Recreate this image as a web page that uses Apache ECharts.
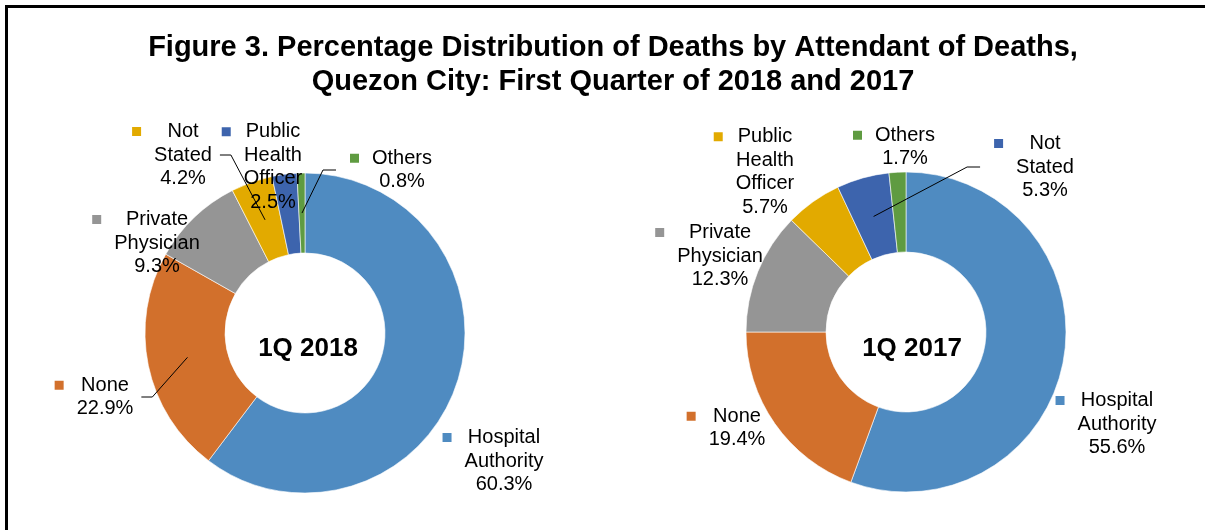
<!DOCTYPE html>
<html>
<head>
<meta charset="utf-8">
<script src="https://cdn.jsdelivr.net/npm/echarts@6/dist/echarts.min.js"></script>
<style>
  html, body { margin: 0; padding: 0; background: #fff; }
  #chart { width: 1205px; height: 530px; }
  #frame {
    position: absolute; left: 5px; top: 5px; right: 0; bottom: 0;
    border-top: 3px solid #000; border-left: 3px solid #000;
    pointer-events: none;
  }
</style>
</head>
<body>
<div id="chart"></div>
<div id="frame"></div>
<script>
// data
const categories2018 = ["Hospital Authority", "None", "Private Physician", "Not Stated", "Public Health Officer", "Others"];
const values2018 = [60.3, 22.9, 9.3, 4.2, 2.5, 0.8];
const categories2017 = ["Hospital Authority", "None", "Private Physician", "Public Health Officer", "Not Stated", "Others"];
const values2017 = [55.6, 19.4, 12.3, 5.7, 5.3, 1.7];

// colours go by slice position, not by name (the two years differ)
const sliceColors = ["#4F8BC1", "#D2702C", "#959595", "#E2AA00", "#3D64AD", "#5F9B41"];
const FONT = "'Liberation Sans', Arial, sans-serif";

// label placement (text centre x, block middle y) and which labels get a leader
const labelPos2018 = [[504, 461], [105, 397], [157, 243], [183, 155], [273, 167], [402, 170]];
const labelPos2017 = [[1117, 424], [737, 428], [720, 256], [765, 172], [1045, 167], [905, 147]];
const leaders2018 = [false, true, false, true, false, true];
const leaders2017 = [false, false, false, false, true, false];

const center2018 = [305, 333];
const center2017 = [906, 332];
const R_IN = 80, R_OUT = 160, R_LEAD = 120;

const chart = echarts.init(document.getElementById("chart"));

function labelText(p) {
  const words = p.name.split(" ");
  const lines = words.map((w, i) => (i === 0 ? "{sq" + p.dataIndex + "|}{g|}" : "{sp|}") + "{t|" + w + "}");
  lines.push("{sp|}{t|" + p.value.toFixed(1) + "%}");
  return lines.join("\n");
}

function richFor() {
  const rich = {
    t: { fontSize: 20, lineHeight: 23.5, color: "#000", fontFamily: FONT },
    g: { width: 13, align: "left" },
    sp: { width: 22, align: "left" }
  };
  sliceColors.forEach((c, i) => {
    rich["sq" + i] = { width: 9, height: 9, backgroundColor: c, align: "left" };
  });
  return rich;
}

function makeLayout(pos, leaders, values, center) {
  const total = values.reduce((a, b) => a + b, 0);
  return function (params) {
    const i = params.dataIndex;
    const tx = pos[i][0], ty = pos[i][1];
    const bx = tx - 11;
    const res = { x: bx, y: ty, align: "center", verticalAlign: "middle" };
    if (leaders[i]) {
      const before = values.slice(0, i).reduce((a, b) => a + b, 0);
      const ang = (before + values[i] / 2) / total * Math.PI * 2;
      const px = center[0] + R_LEAD * Math.sin(ang);
      const py = center[1] - R_LEAD * Math.cos(ang);
      const half = params.labelRect.width / 2;
      const right = px > tx;
      const e1 = right ? bx + half + 8 : bx - half - 14;
      const e2 = right ? e1 + 11 : e1 - 13;
      res.labelLinePoints = [[e1, ty], [e2, ty], [px, py]];
    }
    return res;
  };
}

// the coloured ring
function ringSeries(cats, vals, center) {
  return {
    type: "pie",
    center: center,
    radius: [R_IN, R_OUT],
    startAngle: 90,
    clockwise: true,
    silent: true,
    z: 2,
    itemStyle: { borderColor: "#fff", borderWidth: 0.6 },
    label: { show: false },
    labelLine: { show: false },
    data: cats.map((name, i) => ({
      name: name,
      value: vals[i],
      itemStyle: { color: sliceColors[i] }
    }))
  };
}

// same slices, invisible, drawn on top so that labels and leaders sit over the ring
function labelSeries(cats, vals, center, pos, leaders) {
  return {
    type: "pie",
    center: center,
    radius: [R_IN, R_OUT],
    startAngle: 90,
    clockwise: true,
    avoidLabelOverlap: false,
    silent: true,
    z: 5,
    itemStyle: { color: "rgba(0,0,0,0)", borderWidth: 0 },
    label: {
      show: true,
      position: "outside",
      formatter: labelText,
      rich: richFor()
    },
    labelLine: { show: false, lineStyle: { color: "#000", width: 1 } },
    labelLayout: makeLayout(pos, leaders, vals, center),
    data: cats.map((name, i) => ({
      name: name,
      value: vals[i],
      labelLine: { show: leaders[i] }
    }))
  };
}

const option = {
  animation: false,
  backgroundColor: "#fff",
  title: [
    {
      text: "Figure 3. Percentage Distribution of Deaths by Attendant of Deaths,\nQuezon City: First Quarter of 2018 and 2017",
      left: 613,
      top: 31,
      textAlign: "center",
      padding: 0,
      textStyle: { fontSize: 29, lineHeight: 34, fontWeight: "bold", color: "#000", fontFamily: FONT }
    },
    {
      text: "1Q 2018",
      left: 308,
      top: 349,
      textAlign: "center",
      textVerticalAlign: "middle",
      padding: 0,
      textStyle: { fontSize: 26, fontWeight: "bold", color: "#000", fontFamily: FONT }
    },
    {
      text: "1Q 2017",
      left: 912,
      top: 349,
      textAlign: "center",
      textVerticalAlign: "middle",
      padding: 0,
      textStyle: { fontSize: 26, fontWeight: "bold", color: "#000", fontFamily: FONT }
    }
  ],
  series: [
    ringSeries(categories2018, values2018, center2018),
    ringSeries(categories2017, values2017, center2017),
    labelSeries(categories2018, values2018, center2018, labelPos2018, leaders2018),
    labelSeries(categories2017, values2017, center2017, labelPos2017, leaders2017)
  ]
};

chart.setOption(option);
</script>
</body>
</html>
